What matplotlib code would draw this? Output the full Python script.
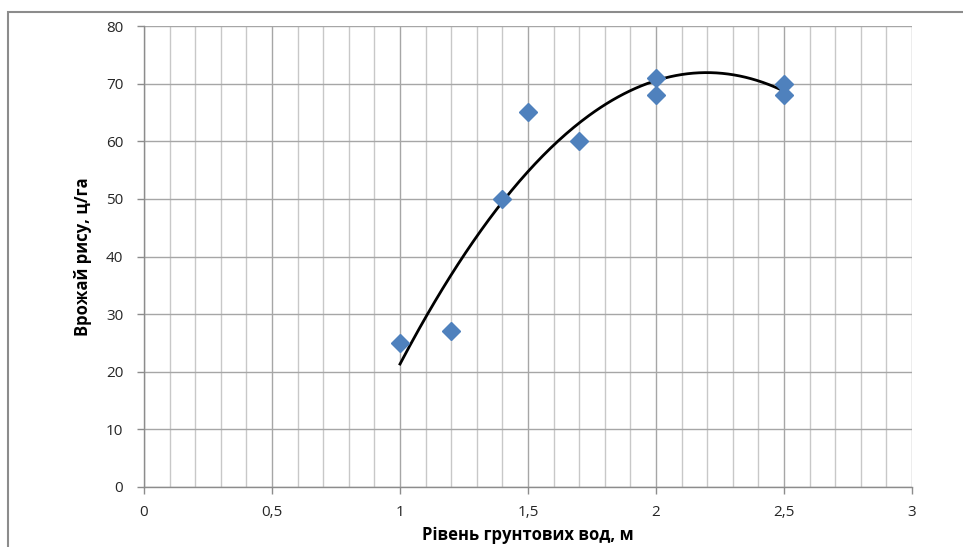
import numpy as np
import matplotlib.pyplot as plt
from matplotlib.patches import Rectangle
from matplotlib.ticker import MultipleLocator, FuncFormatter

# Рівень грунтових вод (м) та врожай рису (ц/га)
water_level = [1.0, 1.2, 1.4, 1.5, 1.7, 2.0, 2.0, 2.5, 2.5]
rice_yield = [25, 27, 50, 65, 60, 71, 68, 70, 68]

x_label = "Рівень грунтових вод, м"
y_label = "Врожай рису, ц/га"

plt.rcParams['font.family'] = ['Open Sans', 'DejaVu Sans']

W, H = 963, 547
fig = plt.figure(figsize=(W / 100, H / 100), dpi=100)

# рамка області діаграми (як в Excel, обрізана справа і знизу)
fig.patches.append(Rectangle((8 / W, -0.1), 1.2, 1 - 12 / H + 0.1,
                             transform=fig.transFigure, fill=False,
                             edgecolor='#8c8c8c', linewidth=1.5))

ax = fig.add_axes([144 / W, 1 - 487 / H, (912 - 144) / W, (487 - 26) / H])

# поліноміальна лінія тренду 2-го порядку
coef = np.polyfit(water_level, rice_yield, 2)
xs = np.linspace(min(water_level), max(water_level), 200)
ax.plot(xs, np.polyval(coef, xs), color='black', linewidth=2, zorder=3)

ax.plot(water_level, rice_yield, linestyle='none', marker='D', markersize=9,
        color='#4f81bd', markeredgecolor='#4f81bd', zorder=4)

ax.set_xlim(0, 3)
ax.set_ylim(0, 80)
ax.xaxis.set_major_locator(MultipleLocator(0.5))
ax.xaxis.set_minor_locator(MultipleLocator(0.1))
ax.yaxis.set_major_locator(MultipleLocator(10))

fmt = FuncFormatter(lambda v, p: f"{v:g}".replace('.', ','))
ax.xaxis.set_major_formatter(fmt)

ax.grid(which='major', axis='both', color='#a6a6a6', linewidth=1)
ax.grid(which='minor', axis='x', color='#c8c8c8', linewidth=1)
ax.set_axisbelow(True)

for s in ['top', 'right']:
    ax.spines[s].set_visible(False)
for s in ['left', 'bottom']:
    ax.spines[s].set_color('#8c8c8c')
    ax.spines[s].set_linewidth(1)

ax.tick_params(axis='both', which='major', labelsize=11, colors='#8c8c8c',
               labelcolor='#262626', length=5, width=1)
ax.tick_params(axis='x', which='minor', length=0)
ax.tick_params(axis='x', pad=8)
ax.tick_params(axis='y', pad=10)

ax.set_xlabel(x_label, fontsize=12, fontweight='bold', labelpad=4)
ax.set_ylabel(y_label, fontsize=12, fontweight='bold', labelpad=10)

fig.savefig('out.png', dpi=100)
